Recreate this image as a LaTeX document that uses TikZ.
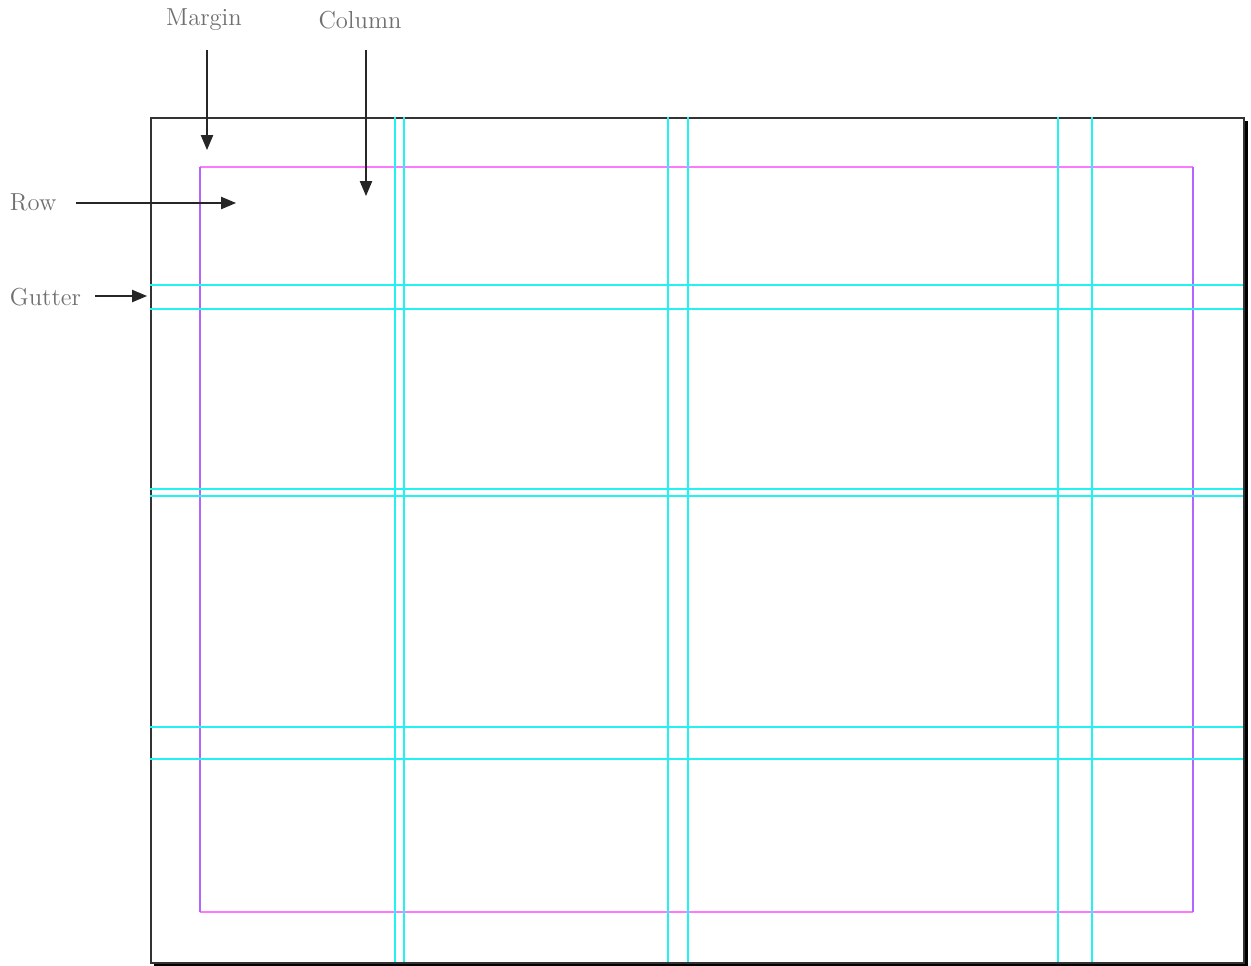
\documentclass[tikz,border=0pt]{standalone}
\usetikzlibrary{arrows.meta}
\definecolor{labelgray}{HTML}{707070}
\definecolor{guide}{HTML}{22F2F2}
\definecolor{marginpink}{HTML}{FF77FF}
\definecolor{marginpurple}{HTML}{B266FF}
\tikzset{
  label/.style={text=labelgray, font=\fontsize{14}{16}\selectfont, inner sep=2pt},
  pointer/.style={-{Triangle[length=8.5pt,width=7pt]}, draw=black!85, line width=0.7pt},
  guideline/.style={guide, line width=0.85pt},
}
\begin{document}
\begin{tikzpicture}[x=0.02cm, y=-0.02cm]
  \useasboundingbox (0,0) rectangle (1251,965);
  % page with shadow
  \draw[black, line width=2pt] (1246.5,121) -- (1246.5,965) -- (154,965);
  \node[draw=black!80, line width=0.9pt, fill=white, inner sep=0pt, minimum width=1093*0.02cm, minimum height=845*0.02cm, anchor=north west] (page) at (150,117) {};
  % margin box
  \draw[marginpink, line width=0.8pt] (200,912) -- (1193,912);
  \draw[marginpink, line width=0.8pt] (200,167) -- (1193,167);
  \draw[marginpurple, line width=0.8pt] (200,167) -- (200,912);
  \draw[marginpurple, line width=0.8pt] (1193,167) -- (1193,912);
  % columns and rows
  \foreach \x in {395,404,668,688,1058,1092}
    \draw[guideline] (\x,117) -- (\x,962);
  \foreach \y in {285,309,489,496,727,759}
    \draw[guideline] (150,\y) -- (1243,\y);
  % labels
  \node[label] (margin) at (204,20) {Margin};
  \node[label] (column) at (360,20) {Column};
  \node[label, anchor=west] (row) at (6,202) {Row};
  \node[label, anchor=west] (gutter) at (6,297) {Gutter};
  \coordinate (margin-tip) at (207,150);
  \coordinate (column-tip) at (366,196);
  \coordinate (row-tip) at (236,203);
  \coordinate (gutter-tip) at (147,296);
  \draw[pointer] (margin-tip |- 0,50) -- (margin-tip);
  \draw[pointer] (column-tip |- 0,50) -- (column-tip);
  \draw[pointer] (row-tip -| 76,0) -- (row-tip);
  \draw[pointer] (gutter-tip -| 95,0) -- (gutter-tip);
\end{tikzpicture}
\end{document}
